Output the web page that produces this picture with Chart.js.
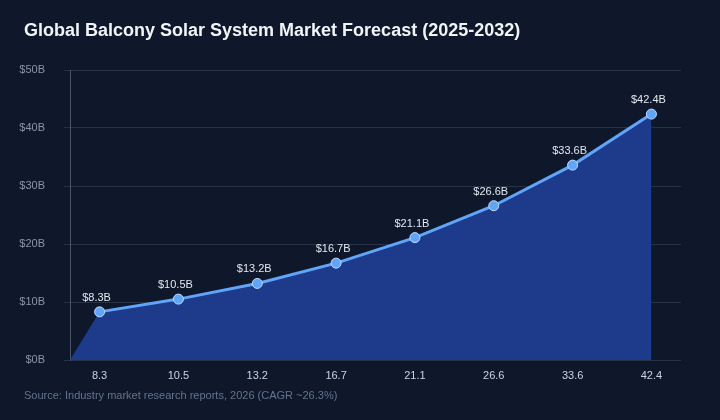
<!DOCTYPE html>
<html>
<head>
<meta charset="utf-8">
<script src="https://cdn.jsdelivr.net/npm/chart.js@4.4.1/dist/chart.umd.min.js"></script>
<style>
  html, body { margin: 0; padding: 0; background: #0f172a; }
  #wrap { position: relative; width: 720px; height: 420px; background: #0f172a; overflow: hidden; }
  #title { position: absolute; left: 24px; top: 20px; line-height: 22px; font: bold 18px "Liberation Sans", Arial, sans-serif; color: #f1f5f9; white-space: nowrap; }
  #source { position: absolute; left: 24px; top: 389px; line-height: 14px; font: 11px "Liberation Sans", Arial, sans-serif; color: #64748b; white-space: nowrap; }
  canvas { position: absolute; left: 0; top: 0; }
</style>
</head>
<body>
<div id="wrap">
  <canvas id="c" width="720" height="420"></canvas>
  <div id="title">Global Balcony Solar System Market Forecast (2025-2032)</div>
  <div id="source">Source: Industry market research reports, 2026 (CAGR ~26.3%)</div>
</div>
<script>
const tickLabels = ['8.3', '10.5', '13.2', '16.7', '21.1', '26.6', '33.6', '42.4'];
const marketValues = [8.3, 10.5, 13.2, 16.7, 21.1, 26.6, 33.6, 42.4];
const valueLabels = ['$8.3B', '$10.5B', '$13.2B', '$16.7B', '$21.1B', '$26.6B', '$33.6B', '$42.4B'];
const yTicks = [0, 10, 20, 30, 40, 50];

const FILL = '#1e3a8a';
const LINE = '#60a5fa';

const leftFill = {
  id: 'leftFill',
  beforeDatasetsDraw(chart) {
    const meta = chart.getDatasetMeta(0);
    const p0 = meta.data[0];
    const ca = chart.chartArea;
    const yb = chart.scales.y.getPixelForValue(0);
    const ctx = chart.ctx;
    ctx.save();
    ctx.fillStyle = FILL;
    ctx.beginPath();
    ctx.moveTo(ca.left, yb);
    ctx.lineTo(p0.x, p0.y);
    ctx.lineTo(p0.x + 3, p0.y + 3);
    ctx.lineTo(p0.x + 3, yb);
    ctx.closePath();
    ctx.fill();
    ctx.restore();
  }
};

const dataLabels = {
  id: 'dataLabels',
  afterDatasetsDraw(chart) {
    const meta = chart.getDatasetMeta(0);
    const ctx = chart.ctx;
    ctx.save();
    ctx.font = '11px "Liberation Sans", Arial, sans-serif';
    ctx.fillStyle = '#e2e8f0';
    ctx.textAlign = 'center';
    ctx.textBaseline = 'middle';
    meta.data.forEach((p, i) => {
      ctx.fillText(valueLabels[i], p.x - 3, p.y - 14);
    });
    ctx.restore();
  }
};

new Chart(document.getElementById('c'), {
  type: 'line',
  data: {
    datasets: [{
      data: marketValues.map((v, i) => ({ x: i, y: v })),
      borderColor: LINE,
      borderWidth: 3,
      backgroundColor: FILL,
      fill: 'origin',
      tension: 0,
      pointRadius: 5,
      pointBackgroundColor: LINE,
      pointBorderColor: '#bfdbfe',
      pointBorderWidth: 1,
      pointHoverRadius: 5
    }]
  },
  options: {
    responsive: false,
    animation: false,
    events: [],
    layout: { padding: { top: 70, right: 39, bottom: 0, left: 0 } },
    plugins: {
      legend: { display: false },
      title: { display: false },
      tooltip: { enabled: false }
    },
    scales: {
      x: {
        type: 'linear',
        min: -0.375,
        max: 7.375,
        afterBuildTicks: s => { s.ticks = tickLabels.map((_, i) => ({ value: i })); },
        afterFit: s => { s.height = 60; },
        grid: { display: false, drawTicks: false, tickLength: 0 },
        border: { display: false },
        ticks: {
          autoSkip: false,
          maxRotation: 0,
          padding: 9,
          color: '#cbd5e1',
          font: { family: '"Liberation Sans", Arial, sans-serif', size: 11 },
          callback: (v) => tickLabels[v]
        }
      },
      y: {
        min: 0,
        max: 50,
        afterBuildTicks: s => { s.ticks = yTicks.map(v => ({ value: v })); },
        afterFit: s => { s.width = 70; },
        grid: { color: '#263246', tickLength: 6, lineWidth: 1 },
        border: { display: true, color: '#4b5567' },
        ticks: {
          padding: 19,
          color: '#8b95a7',
          font: { family: '"Liberation Sans", Arial, sans-serif', size: 11 },
          callback: (v) => '$' + v + 'B'
        }
      }
    }
  },
  plugins: [leftFill, dataLabels]
});
</script>
</body>
</html>
